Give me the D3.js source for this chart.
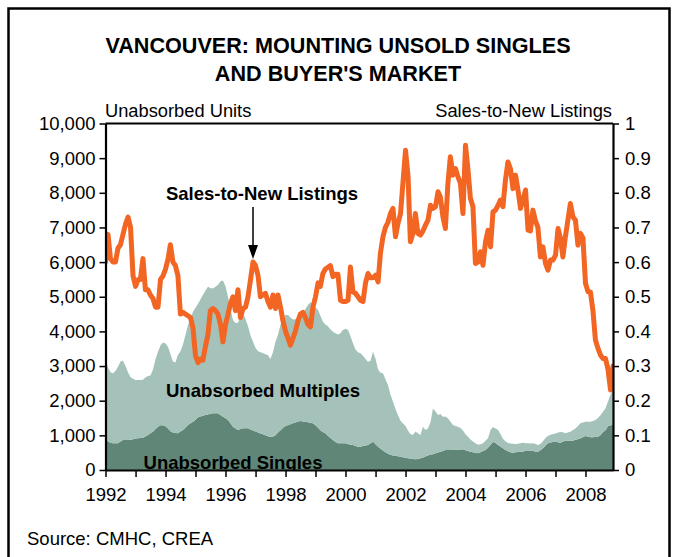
<!DOCTYPE html>
<html><head><meta charset="utf-8">
<script src="https://cdn.jsdelivr.net/npm/d3@7"></script>
<style>
body{margin:0;background:#fff;}
text{font-family:"Liberation Sans", Arial, sans-serif;fill:#000;}
</style></head><body>
<svg id="chart" width="678" height="557"></svg>
<script>
// ---- Data (monthly, Jan 1992 – Dec 2008) ----
const unabsorbedSingles = [
870,830,790,769,769,769,820,865,865,865,870,890,
910,915,925,932,970,1010,1060,1106,1180,1250,1290,1290,
1260,1200,1120,1080,1065,1058,1110,1154,1230,1298,1350,1394,
1450,1520,1545,1565,1585,1600,1620,1635,1635,1635,1590,1538,
1490,1442,1350,1250,1200,1154,1180,1202,1202,1202,1170,1140,
1110,1080,1050,1029,1000,975,962,970,1000,1080,1150,1220,
1270,1298,1320,1346,1370,1400,1413,1400,1394,1380,1360,1346,
1290,1220,1150,1100,1060,990,920,865,810,775,769,769,
769,750,730,720,690,673,673,690,705,721,770,817,
740,673,620,560,510,470,440,420,410,395,385,365,
350,340,330,318,308,320,340,360,390,420,445,452,
480,505,529,550,577,577,577,577,585,590,595,596,
570,545,529,510,495,481,510,545,577,640,721,817,
780,721,680,630,577,540,515,500,510,520,529,535,
545,550,557,545,535,529,570,625,700,770,795,810,
817,800,788,815,846,846,846,846,870,890,913,945,
981,960,945,942,950,962,1000,1100,1150,1269,1290,1300
];
const unabsorbedMultiples = [
2380,2120,2030,2020,2090,2210,2310,2285,2135,1955,1810,1740,
1690,1680,1670,1670,1700,1700,1670,1795,2020,2160,2310,2390,
2390,2350,2230,2050,2035,2260,2310,2465,2670,2880,3030,3175,
3230,3280,3375,3485,3585,3690,3630,3605,3655,3705,3860,3930,
3810,3550,3300,3080,3040,3095,3240,3320,3150,2950,2710,2560,
2410,2350,2350,2350,2340,2340,2240,2430,2700,2820,3050,3180,
3200,3175,3080,2995,2980,2975,3035,3130,3255,3380,3480,3415,
3410,3400,3300,3180,3140,3160,3140,3125,3140,3135,3180,3270,
3310,3290,3140,2935,2790,2725,2695,2610,2495,2405,2380,2595,
2460,2225,2190,2230,2110,1980,1740,1550,1350,1185,1035,980,
920,790,710,690,800,740,670,890,765,780,935,1325,
1210,1080,1090,990,965,915,825,720,685,660,615,545,
460,415,350,310,275,250,230,225,265,275,430,425,
420,435,360,270,255,240,250,255,240,240,245,255,
225,220,210,225,215,190,180,205,220,210,225,230,
240,280,310,275,215,235,260,305,330,380,435,425,
415,435,450,470,490,540,580,580,630,710,890,1000
];
const salesToNewListings = [
0.60,0.68,0.61,0.60,0.60,0.64,0.65,0.68,0.71,0.73,0.70,0.56,
0.53,0.55,0.55,0.61,0.52,0.52,0.505,0.495,0.47,0.47,0.55,0.56,
0.58,0.61,0.65,0.60,0.59,0.56,0.45,0.455,0.45,0.445,0.44,0.41,
0.33,0.31,0.32,0.317,0.356,0.39,0.46,0.466,0.46,0.45,0.42,0.37,
0.42,0.45,0.48,0.50,0.46,0.52,0.44,0.466,0.47,0.50,0.55,0.60,
0.59,0.56,0.50,0.505,0.51,0.486,0.47,0.505,0.466,0.505,0.47,0.43,
0.40,0.38,0.36,0.38,0.40,0.43,0.45,0.455,0.44,0.42,0.413,0.47,
0.50,0.54,0.53,0.567,0.58,0.585,0.59,0.558,0.565,0.565,0.49,0.486,
0.486,0.49,0.586,0.514,0.51,0.50,0.49,0.486,0.54,0.567,0.555,0.555,
0.562,0.543,0.625,0.673,0.70,0.715,0.74,0.755,0.673,0.712,0.74,0.83,
0.923,0.846,0.659,0.683,0.74,0.683,0.678,0.69,0.707,0.721,0.764,0.755,
0.76,0.803,0.788,0.731,0.697,0.827,0.904,0.851,0.87,0.846,0.827,0.74,
0.937,0.865,0.784,0.76,0.596,0.60,0.63,0.591,0.659,0.692,0.644,0.745,
0.75,0.764,0.779,0.76,0.836,0.889,0.87,0.812,0.851,0.808,0.755,0.78,
0.808,0.692,0.69,0.75,0.72,0.70,0.615,0.644,0.596,0.577,0.606,0.606,
0.62,0.697,0.67,0.615,0.673,0.721,0.769,0.731,0.721,0.649,0.683,0.67,
0.539,0.514,0.514,0.46,0.375,0.351,0.332,0.322,0.322,0.29,0.231,0.30
];
const yearTicks = [1992,1993,1994,1995,1996,1997,1998,1999,2000,2001,2002,2003,2004,2005,2006,2007,2008];
const yearLabels = [1992,1994,1996,1998,2000,2002,2004,2006,2008];
const leftTicks = [0,1000,2000,3000,4000,5000,6000,7000,8000,9000,10000];
const rightTicks = [0,0.1,0.2,0.3,0.4,0.5,0.6,0.7,0.8,0.9,1];

// ---- Build table ----
const rows = unabsorbedSingles.map((s, i) => ({
  date: new Date(1992, i, 1),
  singles: s,
  multiples: unabsorbedMultiples[i],
  ratio: salesToNewListings[i]
}));

const svg = d3.select("#chart");
const L = 105.5, R = 613, T = 123.5, B = 470;

const x = d3.scaleTime().domain([new Date(1992,0,1), new Date(2008,11,1)]).range([L, R]);
const yL = d3.scaleLinear().domain([0, 10000]).range([B, T]);
const yR = d3.scaleLinear().domain([0, 1]).range([B, T]);

// outer frame
svg.append("rect").attr("x", 8.5).attr("y", 8.5).attr("width", 661).attr("height", 570)
  .attr("fill", "none").attr("stroke", "#000").attr("stroke-width", 2.5);

// title
const title = svg.append("text").attr("text-anchor", "middle")
  .style("font-size", "21.6px").style("font-weight", "bold");
title.append("tspan").attr("x", 338).attr("y", 53).text("VANCOUVER: MOUNTING UNSOLD SINGLES");
title.append("tspan").attr("x", 338).attr("y", 81).text("AND BUYER'S MARKET");

svg.append("defs").append("clipPath").attr("id", "plotClip")
  .append("rect").attr("x", L).attr("y", T).attr("width", R - L).attr("height", B - T);

const plot = svg.append("g").attr("clip-path", "url(#plotClip)");

const stack = d3.stack().keys(["singles", "multiples"]);
const series = stack(rows);
const colors = {singles: "#5f8676", multiples: "#a4c2b9"};
const area = d3.area()
  .x(d => x(d.data.date))
  .y0(d => yL(d[0]))
  .y1(d => yL(d[1]));

plot.selectAll("path.area").data(series).join("path")
  .attr("class", "area")
  .attr("fill", d => colors[d.key])
  .attr("d", area);

plot.append("text").attr("x", 233).attr("y", 469).attr("text-anchor", "middle")
  .style("font-size", "18.5px").style("font-weight", "bold").text("Unabsorbed Singles");

const line = d3.line().x(d => x(d.date)).y(d => yR(d.ratio));
plot.append("path").datum(rows)
  .attr("fill", "none").attr("stroke", "#f26522").attr("stroke-width", 5)
  .attr("stroke-linejoin", "round").attr("stroke-linecap", "round")
  .attr("d", line);

svg.append("text").attr("x", 263).attr("y", 397).attr("text-anchor", "middle")
  .style("font-size", "18.6px").style("font-weight", "bold").text("Unabsorbed Multiples");

// annotation
svg.append("text").attr("x", 262).attr("y", 200).attr("text-anchor", "middle")
  .style("font-size", "18.5px").style("font-weight", "bold").text("Sales-to-New Listings");
const ax = x(new Date(1996, 11, 1));
svg.append("line").attr("x1", ax).attr("x2", ax).attr("y1", 207).attr("y2", 247)
  .attr("stroke", "#000").attr("stroke-width", 1.5);
svg.append("path").attr("d", `M${ax-5},${245} L${ax+5},${245} L${ax},${259} Z`).attr("fill", "#000");

// axes
function styleAxis(g) {
  g.select(".domain").attr("stroke", "#000").attr("stroke-width", 2.2);
  g.selectAll(".tick line").attr("stroke", "#000").attr("stroke-width", 1.5);
  g.selectAll(".tick text").style("font-size", "18.5px").attr("fill", "#000");
  g.attr("font-family", null);
}

svg.append("line").attr("x1", L).attr("x2", R).attr("y1", T).attr("y2", T)
  .attr("stroke", "#000").attr("stroke-width", 2.2);

svg.append("g").attr("transform", `translate(${L},0)`)
  .call(d3.axisLeft(yL).tickValues(leftTicks).tickFormat(d3.format(",")).tickSize(6).tickSizeOuter(0).tickPadding(4))
  .call(styleAxis);

svg.append("g").attr("transform", `translate(${R},0)`)
  .call(d3.axisRight(yR).tickValues(rightTicks).tickFormat(d3.format("~g")).tickSize(6).tickSizeOuter(0).tickPadding(6))
  .call(styleAxis);

svg.append("g").attr("transform", `translate(0,${B})`)
  .call(d3.axisBottom(x).tickValues(yearTicks.map(y => new Date(y, 0, 1)))
    .tickFormat(d => yearLabels.includes(d.getFullYear()) ? d.getFullYear() : "")
    .tickSize(7).tickSizeOuter(0).tickPadding(11))
  .call(styleAxis);

// axis titles
svg.append("text").attr("x", 105).attr("y", 117).style("font-size", "18.3px").text("Unabsorbed Units");
svg.append("text").attr("x", 612).attr("y", 117).attr("text-anchor", "end").style("font-size", "18.3px").text("Sales-to-New Listings");

// source
svg.append("text").attr("x", 27).attr("y", 545).style("font-size", "18.5px").text("Source: CMHC, CREA");
</script>
</body></html>
